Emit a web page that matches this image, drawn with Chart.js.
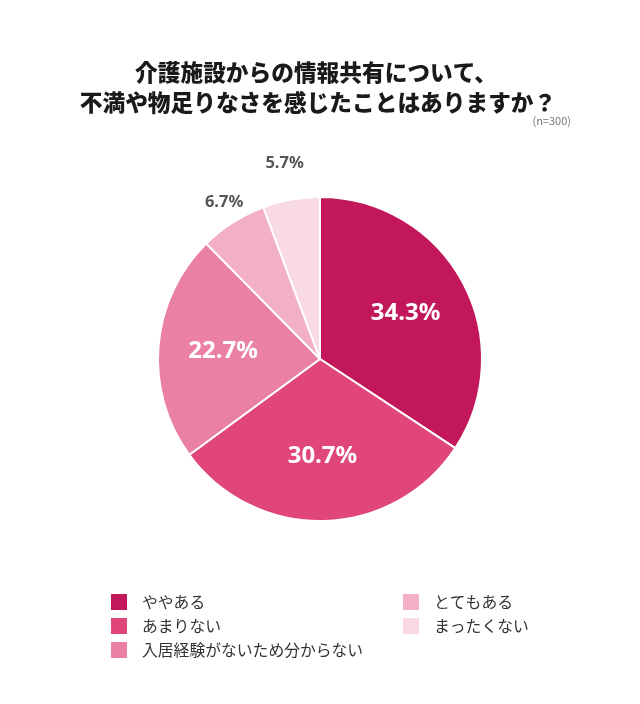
<!DOCTYPE html>
<html><head><meta charset="utf-8">
<script src="https://cdn.jsdelivr.net/npm/chart.js@4"></script>
<style>html,body{margin:0;padding:0;background:#fff;}#wrap{width:640px;height:704px;position:relative;}</style>
</head><body><div id="wrap"><canvas id="c" width="640" height="704"></canvas></div>
<script>
const titleLines = ['介護施設からの情報共有について、', '不満や物足りなさを感じたことはありますか？'];
const sampleNote = '(n=300)';
const categories = ['ややある', 'あまりない', '入居経験がないため分からない', 'とてもある', 'まったくない'];
const values = [34.3, 30.7, 22.7, 6.7, 5.7];
const colors = ['#C2185B', '#E0457B', '#EB80A6', '#F2AFC7', '#F9D9E4'];

const JP = '"Noto Sans CJK JP", "Noto Sans", sans-serif';

const overlay = {
  id: 'overlay',
  afterDraw(chart) {
    const ctx = chart.ctx;
    ctx.save();
    // title
    ctx.fillStyle = '#1a1a1a';
    ctx.font = '900 22.7px ' + JP;
    ctx.textAlign = 'center';
    ctx.textBaseline = 'middle';
    ctx.fillText(titleLines[0], 316, 72);
    ctx.fillText(titleLines[1], 318, 102);
    ctx.font = '11px ' + JP;
    ctx.fillStyle = '#777';
    ctx.textAlign = 'right';
    ctx.fillText(sampleNote, 571, 121);
    // labels
    const meta = chart.getDatasetMeta(0);
    meta.data.forEach((arc, i) => {
      const mid = (arc.startAngle + arc.endAngle) / 2;
      const r = arc.outerRadius;
      const txt = values[i].toFixed(1) + '%';
      ctx.textAlign = 'center';
      ctx.textBaseline = 'middle';
      if (values[i] > 10) {
        ctx.fillStyle = '#fff';
        ctx.font = 'bold 24px "Noto Sans", sans-serif';
        ctx.fillText(txt, arc.x + Math.cos(mid) * r * 0.6, arc.y + Math.sin(mid) * r * 0.6);
      } else {
        ctx.fillStyle = '#555';
        ctx.font = 'bold 16.5px "Noto Sans", sans-serif';
        const d = i === 3 ? r + 22 : r + 37;
        const a = i === 3 ? mid + 0.02 : mid;
        ctx.fillText(txt, arc.x + Math.cos(a) * d, arc.y + Math.sin(a) * d);
      }
    });
    // legend
    const pos = [[111, 602], [111, 626], [111, 650], [403, 602], [403, 626]];
    ctx.font = '15.8px ' + JP;
    ctx.textAlign = 'left';
    ctx.textBaseline = 'middle';
    categories.forEach((c, i) => {
      const [x, y] = pos[i];
      ctx.fillStyle = colors[i];
      ctx.fillRect(x, y - 8, 16, 16);
      ctx.fillStyle = '#333';
      ctx.fillText(c, x + 31, y);
    });
    ctx.restore();
  }
};

new Chart(document.getElementById('c'), {
  type: 'pie',
  data: { labels: categories, datasets: [{ data: values, backgroundColor: colors, borderColor: '#fff', borderWidth: 2 }] },
  options: {
    responsive: false, animation: false,
    layout: { padding: { top: 196, bottom: 182, left: 157, right: 157 } },
    plugins: { legend: { display: false }, title: { display: false }, tooltip: { enabled: false } }
  },
  plugins: [overlay]
});
</script></body></html>
